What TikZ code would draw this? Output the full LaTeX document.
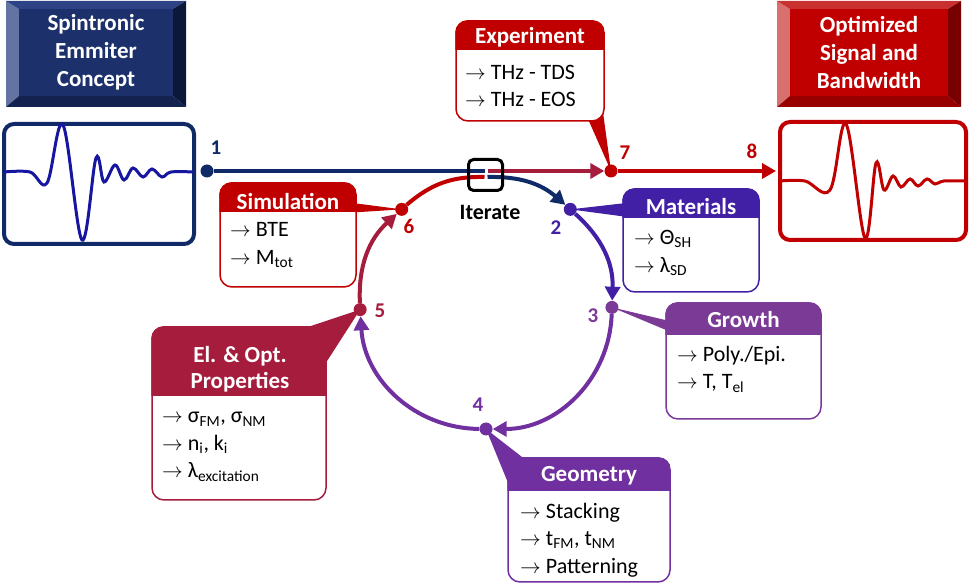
\documentclass[tikz,border=0pt]{standalone}
\usepackage{fontspec}
\setmainfont{Carlito}
\usetikzlibrary{arrows.meta,calc}
\definecolor{cnavy}{HTML}{0F2A66}
\definecolor{cwave}{HTML}{1616A0}
\definecolor{cred}{HTML}{C00000}
\definecolor{ccrim}{HTML}{A61C3C}
\definecolor{cmat}{HTML}{4220A6}
\definecolor{cgro}{HTML}{7B3A96}
\definecolor{cgeo}{HTML}{7030A0}
\definecolor{navyface}{HTML}{1C306C}
\definecolor{navylt}{HTML}{6474A2}
\definecolor{navytop}{HTML}{2E4385}
\definecolor{navyrt}{HTML}{0C1838}
\definecolor{navybot}{HTML}{13224F}
\definecolor{redlt}{HTML}{D87070}
\definecolor{redtop}{HTML}{C93030}
\definecolor{redrt}{HTML}{780000}
\definecolor{redbot}{HTML}{980000}

\begin{document}
\begin{tikzpicture}[x=1pt,y=1pt,
  dot/.style={circle,fill=#1,inner sep=0pt,minimum size=13pt},
  num/.style={text=#1,font=\fontsize{21}{24}\selectfont\bfseries},
  lnk/.style={draw=#1,line width=4pt},
  arr/.style={draw=#1,line width=4pt,-{Triangle[length=14pt,width=15pt]}},
  cbox/.style={draw=#1,fill=white,line width=1.5pt,rounded corners=12pt,inner sep=0pt},
  head/.style={text=white,font=\fontsize{23}{26}\selectfont\bfseries,align=center},
  body/.style={anchor=west,font=\fontsize{22}{27.5}\selectfont,align=left,inner sep=0pt},
  ttl/.style={text=white,font=\fontsize{23}{28}\selectfont\bfseries,align=center,inner sep=0pt,minimum width=154pt,minimum height=87pt},
  wbox/.style={draw=#1,line width=4pt,rounded corners=10pt}]
\useasboundingbox (0,0) rectangle (971,583);

\fill[navylt] (6,476) -- (6,582) -- (19,574) -- (19,487) -- cycle;
\fill[navytop] (6,582) -- (186,582) -- (173,574) -- (19,574) -- cycle;
\fill[navyrt] (186,582) -- (186,476) -- (173,487) -- (173,574) -- cycle;
\fill[navybot] (6,476) -- (186,476) -- (173,487) -- (19,487) -- cycle;
\node[ttl,fill=navyface] (concept) at (96,530.5) {Spintronic\\Emmiter\\Concept};
\fill[redlt] (777,476) -- (777,582) -- (790,574) -- (790,487) -- cycle;
\fill[redtop] (777,582) -- (961,582) -- (948,574) -- (790,574) -- cycle;
\fill[redrt] (961,582) -- (961,476) -- (948,487) -- (948,574) -- cycle;
\fill[redbot] (777,476) -- (961,476) -- (948,487) -- (790,487) -- cycle;
\node[ttl,fill=cred,minimum width=158pt] (optim) at (869,530.5) {Optimized\\Signal and\\Bandwidth};

\node[wbox=cnavy,minimum width=190pt,minimum height=120pt] (wavein) at (99,399) {};
\draw[cwave,line width=3pt] plot[smooth,tension=0.6] coordinates {(4,411) (30,411) (47,400) (63,458) (82,343) (96,425) (104,401) (115,418) (124,403) (133,415) (143,406) (152,414) (162,406) (171,411) (194,411)};
\node[wbox=cred,minimum width=186pt,minimum height=118pt] (waveout) at (873,402) {};
\draw[cred,line width=3pt] plot[smooth,tension=0.6] coordinates {(780,402) (805,402) (830,393) (846,459) (865,345) (876,420) (884,393) (893,407) (901,396) (910,404) (918,397) (927,404) (935,399) (944,402) (966,402)};

\coordinate (c) at (486,280);
\node[dot=cnavy] (d1) at (207,412) {};
\node[dot=cmat] (d2) at ($(c)+(48:126)$) {};
\node[dot=cgro] (d3) at ($(c)+(-2:126)$) {};
\node[dot=cgeo] (d4) at ($(c)+(270:126)$) {};
\node[dot=ccrim] (d5) at ($(c)+(183:126)$) {};
\node[dot=cred] (d6) at ($(c)+(132:126)$) {};
\node[dot=cred] (d7) at (611,412) {};
\coordinate (ta) at (484.5,406);
\coordinate (tb) at (487.5,406);
\coordinate (ha) at (484.5,412);
\coordinate (hb) at (487.5,412);

\draw[lnk=cnavy] (d1) -- (ha);
\draw[arr=ccrim] (hb) -- (d7);
\draw[arr=cred,shorten >=2pt] (d7) -- (waveout.west |- d7);
\draw[lnk=cred] (d6) to[bend left=21] (ta);
\draw[arr=cnavy] (tb) to[bend left=21] (d2);
\draw[arr=cmat] (d2) to[bend left=25] (d3);
\draw[arr=cgeo] (d3) to[bend left=44] (d4);
\draw[arr=cgeo] (d4) to[bend left=43] (d5);
\draw[arr=ccrim] (d5) to[bend left=25] (d6);

\node[num=cnavy] (n1) at (216,435) {1};
\node[num=cmat] (n2) at (556,355) {2};
\node[num=cgro] (n3) at (593,267) {3};
\node[num=cgeo] (n4) at (478,178) {4};
\node[num=ccrim] (n5) at (380,272) {5};
\node[num=cred] (n6) at (409,357) {6};
\node[num=cred] (n7) at (625,430) {7};
\node[num=cred] (n8) at (752,432) {8};

\fill[cred] (588,464) -- (602,478) -- (d7.center) -- cycle;
\node[cbox=cred,minimum width=148pt,minimum height=100pt] (exp) at (530,512) {};
\begin{scope}
\clip[rounded corners=12pt] (exp.south west) rectangle (exp.north east);
\fill[cred] (exp.north west) rectangle ($(exp.north east)+(0,-30)$);
\end{scope}
\node[head] (exph) at (530,546) {Experiment};
\node[body] (expb) at (465,497) {$\rightarrow$ THz - TDS\\$\rightarrow$ THz - EOS};

\fill[cred] (345,381) -- (345,370) -- (d6.center) -- cycle;
\node[cbox=cred,minimum width=136pt,minimum height=104pt] (sim) at (288,348) {};
\begin{scope}
\clip[rounded corners=12pt] (sim.south west) rectangle (sim.north east);
\fill[cred] (sim.north west) rectangle ($(sim.north east)+(0,-30)$);
\end{scope}
\node[head] (simh) at (288,381) {Simulation};
\node[body] (simb) at (230,338) {$\rightarrow$ BTE\\$\rightarrow$ M\textsubscript{tot}};

\fill[cmat] (635,381) -- (635,365) -- (d2.center) -- cycle;
\node[cbox=cmat,minimum width=136pt,minimum height=103pt] (mat) at (691,342.5) {};
\begin{scope}
\clip[rounded corners=12pt] (mat.south west) rectangle (mat.north east);
\fill[cmat] (mat.north west) rectangle ($(mat.north east)+(0,-30)$);
\end{scope}
\node[head] (math) at (691,376) {Materials};
\node[body] (matb) at (634,330) {$\rightarrow$ Θ\textsubscript{SH}\\$\rightarrow$ λ\textsubscript{SD}};

\fill[cgro] (678,260) -- (678,248) -- (d3.center) -- cycle;
\node[cbox=cgro,minimum width=155pt,minimum height=116pt] (gro) at (743.5,222) {};
\begin{scope}
\clip[rounded corners=12pt] (gro.south west) rectangle (gro.north east);
\fill[cgro] (gro.north west) rectangle ($(gro.north east)+(0,-33)$);
\end{scope}
\node[head] (groh) at (743.5,263) {Growth};
\node[body] (grob) at (677,214) {$\rightarrow$ Poly./Epi.\\$\rightarrow$ T, T\textsubscript{el}};

\fill[cgeo] (513,88) -- (540,112) -- (d4.center) -- cycle;
\node[cbox=cgeo,minimum width=162pt,minimum height=124pt] (geo) at (589,63) {};
\begin{scope}
\clip[rounded corners=12pt] (geo.south west) rectangle (geo.north east);
\fill[cgeo] (geo.north west) rectangle ($(geo.north east)+(0,-34)$);
\end{scope}
\node[head] (geoh) at (589,107) {Geometry};
\node[body] (geob) at (520,43) {$\rightarrow$ Stacking\\$\rightarrow$ t\textsubscript{FM}, t\textsubscript{NM}\\$\rightarrow$ Patterning};

\fill[ccrim] (290,250) -- (320,211) -- (d5.center) -- cycle;
\node[cbox=ccrim,minimum width=174pt,minimum height=173pt] (prop) at (239,169.5) {};
\begin{scope}
\clip[rounded corners=12pt] (prop.south west) rectangle (prop.north east);
\fill[ccrim] (prop.north west) rectangle ($(prop.north east)+(0,-70)$);
\end{scope}
\node[head] (proph) at (240,214) {El. \& Opt.\\Properties};
\node[body] (propb) at (162,136) {$\rightarrow$ σ\textsubscript{FM}, σ\textsubscript{NM}\\$\rightarrow$ n\textsubscript{i}, k\textsubscript{i}\\$\rightarrow$ λ\textsubscript{excitation}};

\node[draw,line width=3pt,rounded corners=5pt,minimum width=34pt,minimum height=31pt] (it) at (485.5,408) {};
\node[font=\fontsize{22}{24}\selectfont\bfseries] (itlab) at (490,371) {Iterate};
\end{tikzpicture}
\end{document}
